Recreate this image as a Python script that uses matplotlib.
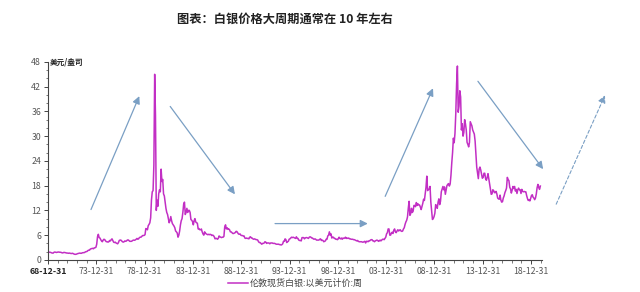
import numpy as np
import matplotlib.pyplot as plt

plt.rcParams['font.family'] = ['Noto Sans CJK SC', 'DejaVu Sans']

# London spot silver, USD/oz, monthly readings from Dec 1968 on
start_price = 2.0
prices_1969_1978 = [
    1.95, 1.85, 1.85, 1.80, 1.70, 1.65, 1.65, 1.85, 1.90, 1.85, 1.80, 1.85,
    1.90, 1.90, 1.85, 1.85, 1.80, 1.70, 1.70, 1.80, 1.80, 1.75, 1.70, 1.65,
    1.65, 1.60, 1.65, 1.60, 1.55, 1.55, 1.60, 1.50, 1.40, 1.35, 1.35, 1.40,
    1.50, 1.55, 1.60, 1.65, 1.60, 1.60, 1.70, 1.75, 1.75, 1.80, 1.95, 2.00,
    2.05, 2.25, 2.35, 2.35, 2.60, 2.70, 2.75, 2.80, 2.70, 2.90, 2.95, 3.05,
    3.80, 5.60, 6.20, 5.40, 5.30, 4.90, 4.60, 4.40, 4.80, 5.00, 4.90, 4.60,
    4.40, 4.40, 4.30, 4.40, 4.70, 4.60, 4.90, 5.10, 4.70, 4.30, 4.20, 4.30,
    4.10, 4.00, 3.90, 4.20, 4.70, 4.80, 4.80, 4.60, 4.40, 4.30, 4.40, 4.60,
    4.50, 4.60, 4.80, 4.85, 4.70, 4.50, 4.50, 4.50, 4.60, 4.75, 4.80, 4.75,
    4.85, 5.00, 5.20, 5.00, 5.10, 5.40, 5.50, 5.50, 5.70, 5.90, 5.90, 5.95,
]
prices_1979_1988 = [
    6.10, 7.60, 7.50, 7.30, 8.30, 8.60, 9.00, 10.2, 14.5, 16.5, 16.8, 23.0,
    45.0, 35.0, 12.0, 14.5, 13.0, 16.0, 17.0, 16.5, 22.0, 19.0, 19.5, 16.0,
    15.5, 14.0, 12.5, 11.5, 11.0, 10.0, 9.00, 9.50, 10.5, 9.50, 8.80, 8.50,
    8.20, 7.80, 7.00, 6.80, 6.50, 5.50, 6.00, 7.00, 8.50, 9.50, 10.0, 11.5,
    13.5, 14.0, 11.0, 11.5, 12.5, 11.5, 12.0, 12.0, 11.5, 9.80, 9.60, 9.30,
    8.50, 9.50, 10.0, 9.20, 9.00, 8.90, 7.50, 7.60, 7.30, 7.30, 7.50, 6.80,
    6.30, 6.00, 6.80, 6.50, 6.30, 6.20, 6.10, 6.20, 6.10, 6.20, 6.10, 5.90,
    6.00, 5.90, 5.60, 5.10, 5.20, 5.20, 5.00, 5.20, 5.80, 5.60, 5.50, 5.40,
    5.50, 5.50, 5.70, 8.00, 8.50, 7.50, 7.80, 7.40, 7.50, 7.30, 6.80, 6.80,
    6.60, 6.40, 6.40, 6.50, 6.60, 6.90, 6.90, 6.60, 6.30, 6.20, 6.30, 6.00,
]
prices_1989_1998 = [
    5.90, 5.90, 5.80, 5.80, 5.30, 5.20, 5.30, 5.20, 5.20, 5.10, 5.50, 5.60,
    5.30, 5.30, 5.10, 5.00, 5.10, 5.00, 4.90, 4.90, 4.80, 4.40, 4.20, 4.20,
    4.00, 3.80, 4.00, 4.00, 4.10, 4.40, 4.30, 4.00, 4.10, 4.10, 4.10, 3.90,
    4.10, 4.10, 4.10, 4.00, 4.00, 4.00, 3.90, 3.80, 3.80, 3.80, 3.80, 3.70,
    3.70, 3.60, 3.70, 3.90, 4.50, 4.50, 5.10, 4.90, 4.20, 4.40, 4.50, 5.00,
    5.10, 5.30, 5.50, 5.40, 5.50, 5.40, 5.30, 5.20, 5.60, 5.20, 5.20, 4.80,
    4.70, 4.70, 4.60, 5.40, 5.40, 5.40, 5.10, 5.30, 5.40, 5.40, 5.30, 5.20,
    5.50, 5.60, 5.50, 5.30, 5.30, 5.10, 5.00, 5.10, 5.00, 4.80, 4.80, 4.80,
    4.80, 5.00, 5.10, 4.70, 4.80, 4.70, 4.40, 4.50, 4.60, 5.00, 5.00, 5.80,
    6.00, 6.80, 6.00, 6.30, 5.30, 5.50, 5.50, 5.20, 5.20, 5.00, 5.00, 4.90,
]
prices_1999_2008 = [
    5.10, 5.50, 5.20, 5.10, 5.30, 5.00, 5.30, 5.20, 5.30, 5.50, 5.20, 5.30,
    5.20, 5.30, 5.10, 5.10, 5.00, 5.00, 5.00, 4.90, 4.90, 4.80, 4.70, 4.60,
    4.70, 4.50, 4.40, 4.40, 4.40, 4.40, 4.30, 4.30, 4.40, 4.50, 4.10, 4.50,
    4.50, 4.40, 4.60, 4.60, 4.80, 4.90, 4.90, 4.60, 4.60, 4.40, 4.60, 4.70,
    4.80, 4.70, 4.50, 4.60, 4.80, 4.60, 4.80, 5.00, 5.00, 4.90, 5.20, 5.50,
    6.30, 6.60, 7.50, 7.50, 6.00, 6.00, 6.50, 6.70, 6.40, 7.20, 7.50, 6.80,
    6.60, 7.00, 7.30, 7.00, 7.20, 7.30, 7.00, 6.90, 7.00, 7.50, 7.80, 8.60,
    9.20, 9.60, 10.4, 12.5, 14.2, 10.8, 11.2, 12.5, 11.5, 11.8, 13.2, 13.2,
    12.9, 13.9, 13.2, 13.6, 13.3, 13.3, 12.8, 12.2, 12.9, 13.7, 14.7, 14.4,
    16.0, 17.6, 20.3, 16.8, 17.0, 17.2, 17.8, 14.0, 11.8, 9.80, 10.0, 10.5,
]
prices_2009_2019 = [
    11.3, 13.4, 13.0, 12.5, 14.0, 14.8, 13.4, 14.2, 16.5, 17.2, 17.8, 17.0,
    17.7, 15.9, 17.0, 18.0, 18.3, 18.5, 17.9, 18.4, 20.5, 23.5, 26.0, 29.5,
    28.4, 30.7, 35.5, 42.7, 47.0, 35.8, 37.2, 41.0, 39.5, 31.5, 33.0, 30.0,
    30.9, 34.0, 33.0, 31.5, 28.5, 28.0, 27.4, 28.5, 33.5, 33.0, 32.5, 31.5,
    31.0, 30.5, 28.8, 25.5, 22.5, 21.0, 19.7, 22.0, 22.5, 21.8, 20.8, 19.8,
    20.0, 21.0, 21.0, 19.7, 19.3, 20.0, 20.9, 19.7, 18.4, 17.2, 15.9, 16.0,
    17.0, 16.8, 16.3, 16.3, 16.6, 16.0, 15.0, 14.8, 14.7, 15.7, 14.5, 14.0,
    14.1, 15.0, 15.5, 16.3, 16.8, 17.4, 20.0, 19.5, 19.2, 17.6, 17.2, 16.2,
    16.9, 17.8, 17.3, 17.8, 16.7, 17.1, 16.1, 17.0, 17.4, 17.0, 17.0, 16.1,
    17.1, 16.6, 16.5, 16.6, 16.5, 16.5, 15.6, 14.9, 14.4, 14.6, 14.3, 14.9,
    15.6, 15.8, 15.2, 15.0, 14.6, 15.0, 16.0, 17.5, 18.3, 17.6, 17.1, 17.9,
]

tick_years = [1968, 1973, 1978, 1983, 1988, 1993, 1998, 2003, 2008, 2013, 2018]
y_ticks = [0, 6, 12, 18, 24, 30, 36, 42, 48]

# cycle arrows: (start year, start price, end year, end price)
arrows = [
    (1973.45, 12.2, 1978.45, 39.7),
    (1981.65, 37.2, 1988.35, 15.9),
    (1992.5, 8.8, 2002.1, 8.8),
    (2003.9, 15.4, 2008.85, 41.6),
    (2013.5, 43.3, 2020.25, 22.0),
]
forecast_arrow = (2021.6, 13.5, 2026.65, 39.9)

title = '图表：白银价格大周期通常在 10 年左右'
series_name = '伦敦现货白银:以美元计价:周'
unit = '美元/盎司'

prices = np.array([start_price] + prices_1969_1978 + prices_1979_1988
                  + prices_1989_1998 + prices_1999_2008 + prices_2009_2019)
x = np.concatenate([[1969.0], 1969 + (np.arange(len(prices) - 1) + 0.5) / 12])

fig = plt.figure(figsize=(6.4, 2.92), dpi=100)
ax = fig.add_axes([0.075, 0.11, 0.772, 0.678])

line, = ax.plot(x, prices, color='#c22fc4', lw=1.1, label=series_name)

ax.set_xlim(1969.0, 2020.14)
ax.set_ylim(0, 48)
ax.set_xticks([y + 1 for y in tick_years])
ax.set_xticklabels([f'{y % 100:02d}-12-31' for y in tick_years])
ax.set_xticks(np.arange(1970, 2021), minor=True)
ax.set_yticks(y_ticks)
ax.set_yticks(np.arange(0, 49, 2), minor=True)

for s in ['top', 'right']:
    ax.spines[s].set_visible(False)
for s in ['left', 'bottom']:
    ax.spines[s].set_color('#444444')
    ax.spines[s].set_linewidth(0.8)
ax.tick_params(axis='both', which='major', labelsize=6.3, labelcolor='#555555',
               color='#444444', length=3, width=0.7, pad=2)
ax.tick_params(axis='both', which='minor', color='#444444', length=1.8, width=0.5)
ax.get_xticklabels()[0].set_fontweight('bold')
ax.get_xticklabels()[0].set_color('#222222')

ax.text(0.004, 1.0, unit, transform=ax.transAxes, fontsize=5.5, fontweight='bold',
        color='#222222', va='center', ha='left')

arrow_color = '#7a9fc4'
for x0, y0, x1, y1 in arrows:
    ax.annotate('', xy=(x1, y1), xytext=(x0, y0), annotation_clip=False,
                arrowprops=dict(arrowstyle='-|>', color=arrow_color, lw=0.9,
                                mutation_scale=11, shrinkA=0, shrinkB=0))
x0, y0, x1, y1 = forecast_arrow
ax.annotate('', xy=(x1, y1), xytext=(x0, y0), annotation_clip=False,
            arrowprops=dict(arrowstyle='-|>', color=arrow_color, lw=0.8, ls=(0, (3, 2)),
                            mutation_scale=11, shrinkA=0, shrinkB=0))

fig.text(0.445, 0.935, title, ha='center', va='center', fontsize=8.8, fontweight='bold',
         color='#222222')

fig.legend(handles=[line], loc='center', bbox_to_anchor=(0.462, 0.03), frameon=False,
           fontsize=6.5, handlelength=2.2, handletextpad=0.2, labelcolor='#444444')

fig.savefig('out.png', dpi=100)
